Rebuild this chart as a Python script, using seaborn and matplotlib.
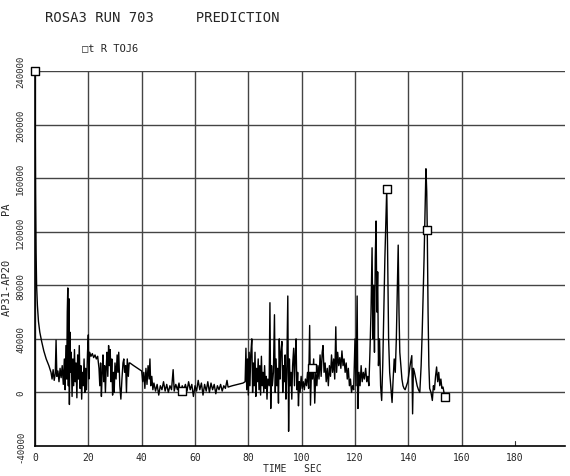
import numpy as np
import pandas as pd
import matplotlib
matplotlib.use("Agg")
import matplotlib.pyplot as plt
import seaborn as sns

# ---- data (time in s, AP31-AP20 in Pa) ----
t_decay = [0, 0.2, 0.4, 0.6, 0.9, 1.3, 1.8, 2.5, 3.3, 4.2, 5.2, 6.0]
v_decay = [240000, 150000, 105000, 80000, 65000, 53000, 45000, 38000, 31000, 25000, 20000, 15000]

t_early = [6.4, 6.8, 7.2, 7.6, 7.9, 8.2, 8.6, 9.0, 9.4, 9.8, 10.2, 10.6, 11.0,
           11.3, 11.6, 11.9, 12.1, 12.3, 12.5, 12.7, 12.9, 13.1, 13.3, 13.6, 13.9, 14.2,
           14.5, 14.8, 15.1, 15.4, 15.7, 16.0, 16.3, 16.6, 16.9, 17.2, 17.5, 17.8, 18.1,
           18.4, 18.7, 19.0, 19.3, 19.7, 20.0, 20.2, 20.5, 21.0, 21.5, 22.0, 22.5, 23.0,
           23.5, 24.0, 24.3, 24.6, 24.9, 25.2, 25.5, 25.8, 26.1, 26.4, 26.7, 27.0, 27.3,
           27.6, 27.9, 28.2, 28.5, 28.8, 29.1, 29.4, 29.7, 30.0, 30.4, 30.8, 31.1, 31.4,
           31.8, 32.2, 32.6, 33.0, 33.3, 33.6, 34.0, 34.3, 34.6, 35.0, 35.3, 35.6, 37.0,
           38.5, 40.0, 40.4, 40.8, 41.2, 41.6, 42.0, 42.4, 42.8, 43.1, 43.4, 43.8, 44.2]
v_early = [10000, 17000, 9000, 14000, 39000, 12000, 16000, 8000, 18000, 11000, 20000, 6000, 25000,
           2000, 35000, 10000, 60000, 78000, 5000, 70000, -9000, 45000, 15000, 30000, -3000, 25000,
           5000, 32000, 8000, 22000, -4000, 28000, 10000, 35000, 3000, 20000, -5000, 15000, 5000,
           25000, 0, 18000, 2000, 30000, 43000, 10000, 30000, 27000, 29000, 26000, 28000, 25000,
           27000, 18000, 5000, 22000, -3000, 15000, 28000, 8000, 20000, 0, 18000, 30000, 12000,
           35000, 20000, 32000, 8000, 25000, -2000, 15000, 0, 22000, 10000, 28000, 15000, 30000,
           5000, -5000, 10000, 22000, 25000, 15000, 20000, 0, 25000, 12000, 22000, 22000, 20000,
           18000, 16000, 8000, 15000, 3000, 18000, 6000, 20000, 10000, 25000, 5000, 12000, 2000]

t_quiet = [44.6, 45.2, 45.8, 46.4, 47.0, 47.6, 48.2, 48.8, 49.4, 50.0, 50.6, 51.2, 51.8, 52.2,
           52.8, 53.4, 54.0, 54.6, 55.2, 55.8, 56.4, 57.0, 57.6, 58.2, 58.8, 59.4, 60.0, 60.6,
           61.2, 61.8, 62.4, 63.0, 63.6, 64.2, 64.8, 65.4, 66.0, 66.6, 67.2, 67.8, 68.4, 69.0,
           69.6, 70.2, 70.8, 71.4, 72.0, 72.4, 74.0, 76.0, 78.0, 78.8]
v_quiet = [7000, 1000, 6000, -2000, 5000, 2000, 8000, 1000, 6000, 0, 5000, 2000, 17000, 1000,
           6000, 2000, 7000, -1000, 5000, 2000, 6000, 1000, 8000, 2000, 6000, -3000, 5000, 1000,
           9000, 2000, 7000, -2000, 6000, 1000, 8000, 0, 7000, 2000, 6000, -1000, 5000, 2000,
           6000, 1000, 5000, 3000, 9000, 4000, 5000, 6000, 7000, 8000]

t_mid = [79.1, 79.4, 79.7, 80.0, 80.3, 80.6, 80.9, 81.3, 81.6, 81.9, 82.2, 82.5, 82.8, 83.1,
         83.4, 83.7, 84.0, 84.3, 84.6, 84.9, 85.2, 85.5, 85.8, 86.1, 86.4, 86.7, 87.0, 87.3,
         87.8, 88.1, 88.4, 88.7, 89.0, 89.4, 89.8, 90.1, 90.4, 90.7, 91.0, 91.3, 91.6, 91.9,
         92.2, 92.6, 92.9, 93.2, 93.5, 93.8, 94.1, 94.4, 94.8, 95.1, 95.4, 95.7, 96.0, 96.3,
         96.6, 97.0, 97.3, 97.6, 97.9, 98.2, 98.5, 98.8, 99.1, 99.4, 99.8, 100.2, 100.6, 101.0,
         101.4, 101.8, 102.2, 102.6, 103.0, 103.3, 103.7, 104.1, 104.5, 104.9, 105.3, 105.7,
         106.1, 106.5, 106.9, 107.3, 107.7, 108.0, 108.4, 108.8, 109.2, 109.6, 110.0, 110.4,
         110.8, 111.2, 111.6, 112.0, 112.4, 112.8, 113.1, 113.5, 113.9, 114.3, 114.7, 115.1,
         115.5, 115.9, 116.3, 116.7, 117.1, 117.5, 117.9, 118.3, 118.7, 119.1, 119.5]
v_mid = [33000, 2000, 25000, -2000, 30000, 5000, 28000, 40000, 0, 22000, 5000, 30000, -3000, 18000,
         8000, 25000, 2000, 20000, -2000, 27000, 5000, 15000, 0, 20000, 3000, 12000, -5000, 10000,
         5000, 67000, -12000, 20000, 5000, 15000, 58000, 0, 25000, 5000, 18000, -8000, 40000, 10000,
         30000, 38000, 0, 20000, 8000, 28000, -5000, 15000, 72000, -29000, 25000, 5000, 15000, -5000,
         20000, 33000, 5000, 28000, 40000, 2000, 15000, -10000, 8000, 0, 12000, 3000, 8000, 2000,
         10000, 5000, 15000, 3000, 50000, -9500, 18000, 10000, 25000, -8000, 15000, 5000,
         20000, 10000, 28000, 12000, 30000, 35000, 15000, 22000, 8000, 18000, 5000, 20000,
         12000, 28000, 15000, 25000, 10000, 49000, 15000, 30000, 20000, 26000, 18000, 31000,
         20000, 25000, 15000, 22000, 10000, 18000, 5000, 10000, 0, 5000, 2000]

t_late = [120.0, 120.4, 120.8, 121.1, 121.5, 121.9, 122.3, 122.7, 123.1, 123.5, 124.0, 124.4,
          124.8, 125.2, 125.6, 126.0, 126.4, 126.7, 127.0, 127.3, 127.6, 127.9, 128.2, 128.5,
          128.8, 129.2, 129.6, 130.0, 130.4, 130.8, 131.2, 131.6, 131.9, 132.2, 132.6, 133.0,
          133.4, 133.9, 134.3, 134.7, 135.1, 135.5, 135.9, 136.2, 136.5, 136.8, 137.2, 137.6,
          138.0, 138.4, 138.8, 139.3, 139.8, 140.3, 140.8, 141.3, 141.6, 141.9, 142.3, 142.8,
          143.3, 143.8, 144.3, 144.8, 145.2, 145.5, 145.9, 146.3, 146.6, 146.9, 147.1, 147.4,
          147.7, 148.0, 148.5, 149.0, 149.4, 149.8, 150.2, 150.6, 151.0, 151.4, 151.8, 152.2,
          152.6, 153.0, 153.7]
v_late = [40000, 5000, 72000, -12000, 15000, 5000, 20000, 8000, 15000, 10000, 18000, 8000,
          12000, 5000, 30000, 60000, 108000, 40000, 80000, 30000, 100000, 128000, 60000, 90000,
          20000, 40000, 5000, -6000, 20000, 60000, 100000, 130000, 152000, 110000, 40000, 15000,
          5000, -7500, 10000, 25000, 15000, 40000, 80000, 110000, 60000, 30000, 20000, 10000,
          5000, 3000, 2000, 5000, 8000, 15000, 22000, 27500, -16000, 18000, 15000, 10000,
          5000, 2000, 0, 20000, 45000, 67500, 100000, 140000, 167000, 150000, 121000, 60000,
          20000, 3000, 0, -6000, 5000, 2000, 12000, 19000, 8000, 15000, 5000, 10000,
          3000, 4000, -3700]

marker_t = [0, 55.2, 103.7, 131.9, 147.1, 153.7]
marker_v = [240000, 1000, 18000, 152000, 121000, -3700]

x_ticks = [0, 20, 40, 60, 80, 100, 120, 140, 160, 180]
x_ticklabels = ["0", "20", "40", "60", "80", "100", "120", "140", "160", "180"]
y_ticks = [-40000, 0, 40000, 80000, 120000, 160000, 200000, 240000]
y_ticklabels = ["-40000", "0", "40000", "80000", "120000", "160000", "200000", "240000"]

# ---- build table ----
t_all = t_decay + t_early + t_quiet + t_mid + t_late
v_all = v_decay + v_early + v_quiet + v_mid + v_late
df = pd.DataFrame({"time": t_all, "dp": v_all})
mk = pd.DataFrame({"time": marker_t, "dp": marker_v})

sns.set_style("white")
plt.rcParams["font.family"] = ["DejaVu Sans Mono", "DejaVu Sans"]

W, H = 570, 477
fig = plt.figure(figsize=(W / 100, H / 100), dpi=100)
L, R, T, B = 35, 565, 72, 447
ax = fig.add_axes([L / W, 1 - B / H, (R - L) / W, (B - T) / H])

xmax = (R - L) * 0.375
ax.set_xlim(0, xmax)
ax.set_ylim(-40000, 240000)

# grid
gcol = "#444444"
for xv in x_ticks[:-1]:
    ax.axvline(xv, color=gcol, lw=1.0, zorder=1)
for yv in y_ticks[1:]:
    ax.axhline(yv, color=gcol, lw=1.0, zorder=1)
ax.plot([180, 180], [-40000, -36000], color="#333333", lw=0.8)

sns.lineplot(data=df, x="time", y="dp", ax=ax, color="black", lw=1.0,
             sort=False, estimator=None, zorder=3)
sns.scatterplot(data=mk, x="time", y="dp", ax=ax, marker="s", s=30,
                facecolor="white", edgecolor="black", linewidth=1.0, zorder=4,
                clip_on=False)

for side in ["top", "right"]:
    ax.spines[side].set_visible(False)
for side in ["left", "bottom"]:
    ax.spines[side].set_color("black")
    ax.spines[side].set_linewidth(1.2)

ax.set_xticks(x_ticks)
ax.set_xticklabels(x_ticklabels, fontsize=7)
ax.set_yticks(y_ticks)
ax.set_yticklabels(y_ticklabels, fontsize=6.5, rotation=90, va="center")
ax.tick_params(axis="x", length=0, pad=4)
ax.tick_params(axis="y", length=0, pad=7)

ax.set_xlabel("TIME   SEC", fontsize=7)
ax.xaxis.set_label_coords((292 - L) / (R - L), -0.045)
ax.set_ylabel("AP31-AP20       PA", fontsize=7.5)
ax.yaxis.set_label_coords(-0.044, 0.5)

fig.text(45 / W, 1 - 22 / H, "ROSA3 RUN 703     PREDICTION", fontsize=10, ha="left", va="baseline")
fig.text(82 / W, 1 - 51 / H, "\u25a1t R TOJ6", fontsize=7.5, ha="left", va="baseline")

fig.savefig("out.png", dpi=100)
